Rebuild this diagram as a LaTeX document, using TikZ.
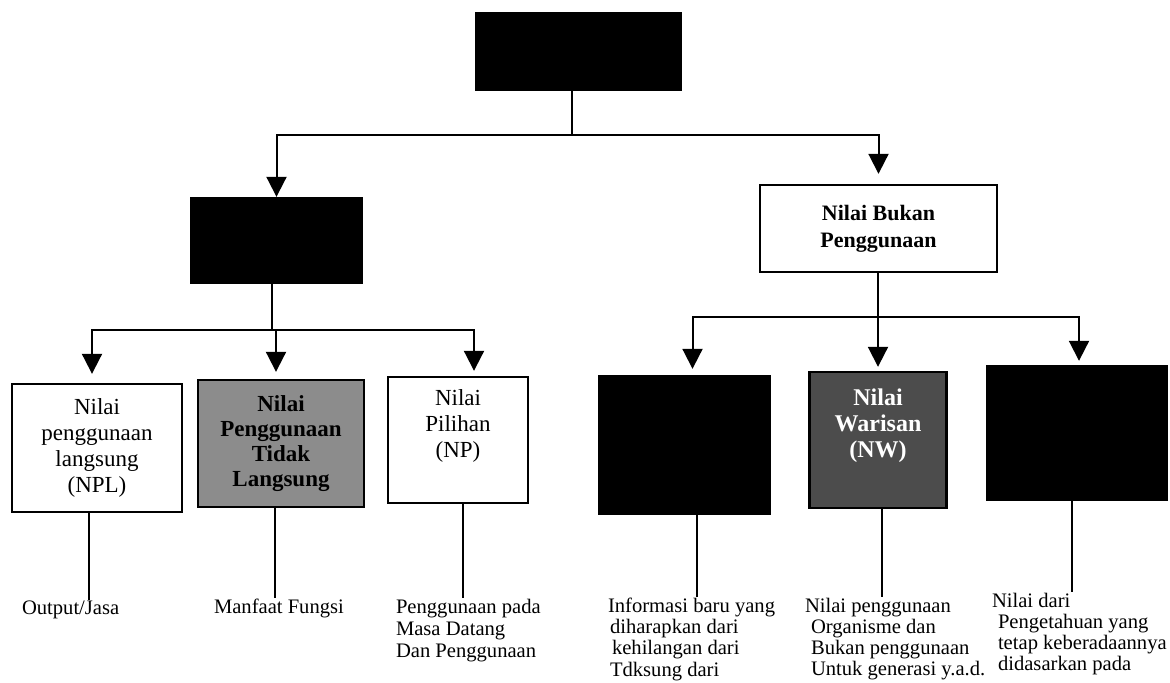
\documentclass[tikz,border=0pt]{standalone}
\usepackage{fontspec}
\setmainfont{Liberation Serif}
\usetikzlibrary{arrows.meta}

\begin{document}
\begin{tikzpicture}[x=0.5pt, y=-0.5pt, >={Triangle[length=10pt,width=10pt]},
  line width=1pt,
  boxsize/.style 2 args={minimum width=#1*0.5pt, minimum height=#2*0.5pt},
  box/.style={draw, line width=1.2pt, inner sep=0pt, align=center, font=\fontsize{11.5}{13}\selectfont},
  blackbox/.style={box, fill=black},
  greybox/.style={box, fill=black!45, font=\fontsize{11.5}{12.5}\selectfont\bfseries},
  darkbox/.style={box, fill=black!70, text=white, font=\fontsize{12}{13}\selectfont\bfseries},
  note/.style={anchor=north west, inner sep=0pt, align=left, font=\fontsize{10.3}{10.6}\selectfont}]

\useasboundingbox (0,0) rectangle (1170,682);

% boxes
\node[name=top_box, blackbox, boxsize={205}{77}] at (578.5,51.5) {};
\node[name=use_box, blackbox, boxsize={171}{85}] at (276.5,240.5) {};
\node[name=nbp_box, box, boxsize={237}{87}, font=\fontsize{11}{13.5}\selectfont\bfseries] at (878.5,228.5) {Nilai Bukan\\Penggunaan};
\node[name=npl_box, box, boxsize={170}{128}] at (97,448) {Nilai\\penggunaan\\langsung\\(NPL)};
\node[name=npt_box, greybox, boxsize={166}{127}] at (281,443.5) {Nilai\\Penggunaan\\Tidak\\Langsung};
\node[name=np_box, box, boxsize={140}{126}] at (458,440) {Nilai\\Pilihan\\(NP)\\\strut};
\node[name=nk_box, blackbox, boxsize={171}{138}] at (684.5,445) {};
\node[name=nw_box, darkbox, boxsize={137}{136}] at (878,440) {Nilai\\Warisan\\(NW)\\\strut};
\node[name=ne_box, blackbox, boxsize={180}{134}] at (1077,433) {};

% texts below
\node[name=npl_txt, note] at (21,600) {Output/Jasa};
\node[name=npt_txt, note] at (213,598) {Manfaat Fungsi};
\node[name=np_txt, note, font=\fontsize{10.3}{11}\selectfont] at (395,598) {Penggunaan pada\\Masa Datang\\Dan Penggunaan};
\node[name=nk_txt, note] at (607,597) {Informasi baru yang\\\hspace*{1pt}diharapkan dari\\\hspace*{2pt}kehilangan dari\\\hspace*{1pt}Tdksung dari};
\node[name=nw_txt, note] at (804,597) {Nilai penggunaan\\\hspace*{3pt}Organisme dan\\\hspace*{3pt}Bukan penggunaan\\\hspace*{3pt}Untuk generasi y.a.d.};
\node[name=ne_txt, note] at (991,592) {Nilai dari\\\hspace*{3pt}Pengetahuan yang\\\hspace*{3pt}tetap keberadaannya\\\hspace*{3pt}didasarkan pada};

\coordinate (top_split) at (572,135);
\coordinate (use_split) at (272,330);
\coordinate (nbp_split) at (878,317);

% tree
\draw (top_box.south -| top_split) -- (top_split);
\draw[->] (top_split) -| (use_box.north);
\draw[->, shorten >=5pt] (top_split) -| (nbp_box.north);

\draw (use_box.south -| use_split) -- (use_split);
\draw[->, shorten >=4.5pt] (use_split) -| ([xshift=-2.5pt]npl_box.north);
\draw[->, shorten >=3.5pt] (use_split) -| ([xshift=-2.5pt]npt_box.north);
\draw[->, shorten >=2.5pt] (use_split) -| ([xshift=8pt]np_box.north);

\draw (nbp_box.south -| nbp_split) -- (nbp_split);
\draw[->, shorten >=3pt] (nbp_split) -| ([xshift=4pt]nk_box.north);
\draw[->, shorten >=2pt] (nbp_split) -- (nw_box.north);
\draw[->, shorten >=2pt] (nbp_split) -| ([xshift=1pt]ne_box.north);

% down to the texts
\draw ([xshift=-4pt]npl_box.south) -- ([xshift=-4pt]npl_box.south |- npl_txt.north);
\draw ([xshift=-3pt]npt_box.south) -- ([xshift=-3pt]npt_box.south |- npt_txt.north);
\draw ([xshift=2.5pt]np_box.south) -- ([xshift=2.5pt]np_box.south |- np_txt.north);
\draw ([xshift=6pt]nk_box.south) -- ([xshift=6pt]nk_box.south |- nk_txt.north);
\draw ([xshift=2pt]nw_box.south) -- ([xshift=2pt]nw_box.south |- nw_txt.north);
\draw ([xshift=-2.5pt]ne_box.south) -- ([xshift=-2.5pt]ne_box.south |- ne_txt.north);

\end{tikzpicture}
\end{document}
